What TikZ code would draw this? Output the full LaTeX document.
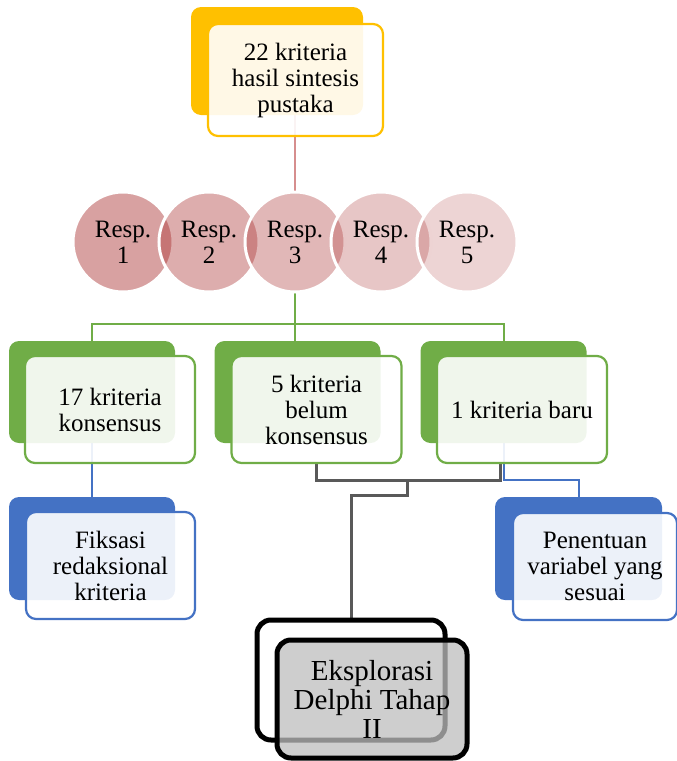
\documentclass[tikz,border=0pt]{standalone}
\usepackage{fontspec}
\setmainfont{Liberation Serif}
\pgfdeclarelayer{links}
\pgfsetlayers{links,main}
\definecolor{ygold}{HTML}{FFC000}
\definecolor{ggreen}{HTML}{70AD47}
\definecolor{bblue}{HTML}{4472C4}
\definecolor{linkgray}{HTML}{595959}
\definecolor{linkpink}{RGB}{214,142,142}
\definecolor{respred}{RGB}{170,50,50}
\definecolor{panelgray}{RGB}{190,190,190}
\begin{document}
\begin{tikzpicture}[x=1pt,y=-1pt]
\tikzset{
  txt/.style={font=\fontsize{25}{26}\selectfont, align=center, text=black},
  card/.style={rectangle, rounded corners=10pt, inner sep=0pt, outer sep=0pt},
  backcard/.style={card, fill=#1},
  frontcard/.style={card, draw=#1, line width=2.2pt, fill=white,
    fill opacity=0.9, text opacity=1, txt},
  respcircle/.style={circle, inner sep=0pt, outer sep=0pt, minimum size=100pt,
    draw=white, line width=3pt, fill=respred, fill opacity=#1,
    text opacity=1, txt},
  link/.style={line width=2pt, draw=#1},
  endback/.style={card, rounded corners=14pt, draw=black, line width=5pt, fill=white},
  endfront/.style={card, rounded corners=14pt, draw=black, line width=5pt,
    fill=panelgray, fill opacity=0.75, text opacity=1,
    font=\fontsize{29}{29}\selectfont, align=center, text=black},
}
\useasboundingbox (0,0) rectangle (677,761);

% literature synthesis card
\node[backcard=ygold, minimum width=172pt, minimum height=108pt] (yb) at (277,61) {};
\node[frontcard=ygold, minimum width=175pt, minimum height=112pt] (yf) at (295.5,80)
  {22 kriteria\\hasil sintesis\\pustaka};

% respondents
\node[respcircle=0.46] (c1) at (123,242) {Resp.\\1};
\node[respcircle=0.40] (c2) at (209,242) {Resp.\\2};
\node[respcircle=0.35] (c3) at (295,242) {Resp.\\3};
\node[respcircle=0.28] (c4) at (381,242) {Resp.\\4};
\node[respcircle=0.21] (c5) at (467,242) {Resp.\\5};

% round-one results
\node[backcard=ggreen, minimum width=166pt, minimum height=102pt] (g1b) at (92,392) {};
\node[backcard=ggreen, minimum width=166pt, minimum height=102pt] (g2b) at (297.5,392) {};
\node[backcard=ggreen, minimum width=166pt, minimum height=102pt] (g3b) at (503.5,392) {};
\node[frontcard=ggreen, minimum width=170pt, minimum height=107pt] (g1f) at (110,409.5)
  {17 kriteria\\konsensus};
\node[frontcard=ggreen, minimum width=170pt, minimum height=107pt] (g2f) at (316.5,409.5)
  {5 kriteria\\belum\\konsensus};
\node[frontcard=ggreen, minimum width=170pt, minimum height=107pt] (g3f) at (522,409.5)
  {1 kriteria baru};

% follow-up actions
\node[backcard=bblue, minimum width=166pt, minimum height=103pt] (b1b) at (92,548.5) {};
\node[backcard=bblue, minimum width=167pt, minimum height=103pt] (b2b) at (578.5,548.5) {};
\node[frontcard=bblue, minimum width=169pt, minimum height=107pt] (b1f) at (110.5,565.5)
  {Fiksasi\\redaksional\\kriteria};
\node[frontcard=bblue, minimum width=164pt, minimum height=107pt] (b2f) at (595,566.5)
  {Penentuan\\variabel yang\\sesuai};

% second Delphi round
\node[endback, minimum width=188pt, minimum height=120pt] (kb) at (351,680) {};
\node[endfront, minimum width=190pt, minimum height=118pt] (kf) at (372,699)
  {Eksplorasi\\Delphi Tahap\\II};

% connectors
\coordinate (gy) at (0,324);
\coordinate (jy) at (0,480);
\coordinate (gr) at (500,0);
\coordinate (jm) at (407,480);
\coordinate (ky) at (0,495);
\begin{pgfonlayer}{links}
  \draw[link=linkpink] (c3.north |- yb.south) -- (c3.north);
  \draw[link=ggreen] (c3.south) -- (c3.south |- g2b.north);
  \draw[link=ggreen] (g1b.north) -- (g1b.north |- gy) -- (g3b.north |- gy) -- (g3b.north);
  \draw[link=bblue] (g1b.south) -- (b1b.north);
  \draw[link=bblue] (g3b.south) -- (g3b.south |- jy) -- (b2b.north |- jy) -- (b2b.north);
  \draw[link=linkgray, line width=3pt] (g2f.south) -- (g2f.south |- jy) -- (gr |- jy) -- (gr |- g3f.south);
  \draw[link=linkgray, line width=3pt] (jm) -- (jm |- ky) -- (kb.north |- ky) -- (kb.north);
\end{pgfonlayer}
\end{tikzpicture}
\end{document}
